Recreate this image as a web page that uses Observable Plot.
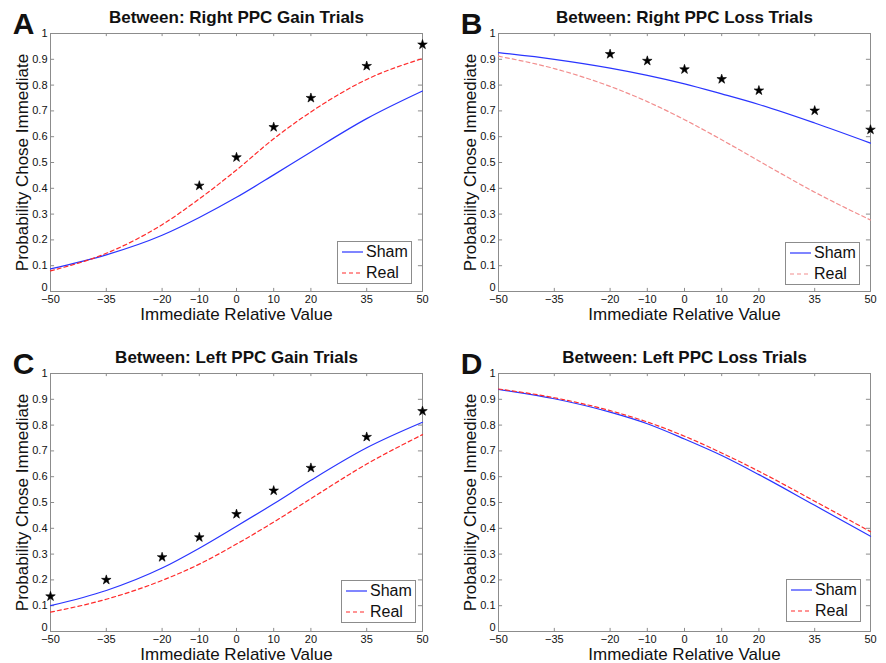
<!DOCTYPE html>
<html><head><meta charset="utf-8">
<script src="https://cdn.jsdelivr.net/npm/d3@7"></script>
<script src="https://cdn.jsdelivr.net/npm/@observablehq/plot@0.6"></script>
<style>
body{margin:0;background:#fff;font-family:"Liberation Sans",Arial,Helvetica,sans-serif;}
#root{position:relative;width:886px;height:663px;overflow:hidden;background:#fff;}
.panel{position:absolute;width:438px;height:323px;}
.legend{position:absolute;border:1px solid #8c8c8c;background:#fff;box-sizing:border-box;width:75px;height:43px;}
.row{height:20.5px;display:flex;align-items:center;font-size:16px;color:#111;}
.row svg{margin-left:4px;margin-right:3px;}
</style></head><body><div id="root"></div>
<script>
// ---- data ----
const xValues = [-50, -35, -20, -10, 0, 10, 20, 35, 50];
const yTicks = [0, 0.1, 0.2, 0.3, 0.4, 0.5, 0.6, 0.7, 0.8, 0.9, 1];
const yTickLabels = ["0", "0.1", "0.2", "0.3", "0.4", "0.5", "0.6", "0.7", "0.8", "0.9", "1"];
const panelLetters = ["A", "B", "C", "D"];
const panelTitles = [
  "Between: Right PPC Gain Trials",
  "Between: Right PPC Loss Trials",
  "Between: Left PPC Gain Trials",
  "Between: Left PPC Loss Trials"
];
const seriesNames = ["Sham", "Real"];
const xLabel = "Immediate Relative Value";
const yLabel = "Probability Chose Immediate";

const shamA = [0.088, 0.142, 0.218, 0.287, 0.365, 0.452, 0.541, 0.670, 0.777];
const realA = [0.080, 0.148, 0.259, 0.359, 0.471, 0.592, 0.696, 0.822, 0.903];
const starXA = [-10, 0, 10, 20, 35, 50];
const starYA = [0.410, 0.520, 0.637, 0.750, 0.874, 0.957];

const shamB = [0.926, 0.900, 0.866, 0.838, 0.805, 0.766, 0.725, 0.653, 0.575];
const realB = [0.912, 0.864, 0.795, 0.736, 0.666, 0.588, 0.506, 0.385, 0.277];
const starXB = [-20, -10, 0, 10, 20, 35, 50];
const starYB = [0.920, 0.894, 0.861, 0.823, 0.779, 0.701, 0.627];

const shamC = [0.100, 0.159, 0.246, 0.323, 0.408, 0.495, 0.586, 0.712, 0.811];
const realC = [0.075, 0.125, 0.198, 0.261, 0.339, 0.424, 0.515, 0.649, 0.763];
const starXC = [-50, -35, -20, -10, 0, 10, 20, 35, 50];
const starYC = [0.136, 0.200, 0.288, 0.365, 0.455, 0.546, 0.634, 0.754, 0.854];

const shamD = [0.938, 0.902, 0.850, 0.805, 0.746, 0.682, 0.608, 0.489, 0.369];
const realD = [0.940, 0.906, 0.856, 0.812, 0.757, 0.692, 0.621, 0.505, 0.387];
const starXD = [];
const starYD = [];

const shamColor = "#2a35ff";
const realColors = ["#ff2a2a", "#f28e8e", "#ff2a2a", "#ff2a2a"];

// ---- build ----
const panels = [
  {sham: shamA, real: realA, sx: starXA, sy: starYA, left: 0, top: 0, legend: [337, 241]},
  {sham: shamB, real: realB, sx: starXB, sy: starYB, left: 448, top: 0, legend: [337, 242]},
  {sham: shamC, real: realC, sx: starXC, sy: starYC, left: 0, top: 340, legend: [341, 240]},
  {sham: shamD, real: realD, sx: starXD, sy: starYD, left: 448, top: 340, legend: [338, 239]}
];

const root = document.getElementById("root");
const font = '"Liberation Sans", Arial, Helvetica, sans-serif';
const gray = "#8c8c8c";
const yFmt = d => yTickLabels[yTicks.indexOf(d)];

panels.forEach((p, i) => {
  const shamRows = xValues.map((x, j) => ({x, y: p.sham[j]}));
  const realRows = xValues.map((x, j) => ({x, y: p.real[j]}));
  const stars = p.sx.map((x, j) => ({x, y: p.sy[j]}));
  const chart = Plot.plot({
    width: 438, height: 323,
    marginLeft: 50, marginRight: 16, marginTop: 33, marginBottom: 32,
    x: {domain: [-50, 50]},
    y: {domain: [0, 1]},
    style: {fontFamily: font, background: "transparent", overflow: "visible", color: "#111"},
    marks: [
      Plot.ruleX(xValues, {x: d => d, y1: 0, y2: 0.012, stroke: gray}),
      Plot.ruleX(xValues, {x: d => d, y1: 0.988, y2: 1, stroke: gray}),
      Plot.ruleY(yTicks, {y: d => d, x1: -50, x2: -48.9, stroke: gray}),
      Plot.ruleY(yTicks, {y: d => d, x1: 48.9, x2: 50, stroke: gray}),
      Plot.frame({stroke: gray}),
      Plot.axisX({ticks: xValues, tickSize: 0, tickPadding: 4, fontSize: 11, label: null,
                  tickFormat: d => d < 0 ? "\u2212" + Math.abs(d) : String(d)}),
      Plot.axisY({ticks: yTicks.slice(1), tickSize: 0, tickPadding: 3, fontSize: 11, label: null, tickFormat: yFmt}),
      Plot.axisY({ticks: yTicks.slice(0, 1), tickSize: 0, tickPadding: 3, fontSize: 11, label: null, tickFormat: yFmt, dy: -4}),
      Plot.line(shamRows, {x: "x", y: "y", stroke: shamColor, strokeWidth: 1.2, curve: "monotone-x"}),
      Plot.line(realRows, {x: "x", y: "y", stroke: realColors[i], strokeWidth: 1.2, strokeDasharray: "4,3", curve: "monotone-x"}),
      Plot.dot(stars, {x: "x", y: "y", symbol: "star", fill: "#000", stroke: "#000", strokeWidth: 0.6, r: 3}),
      Plot.text([panelTitles[i]], {text: d => d, frameAnchor: "top", dy: -16, fontSize: 17, fontWeight: "bold", textAnchor: "middle", lineAnchor: "middle"}),
      Plot.text([panelLetters[i]], {text: d => d, frameAnchor: "top-left", dx: -27, dy: -9.5, fontSize: 30, fontWeight: "bold", textAnchor: "middle", lineAnchor: "middle"}),
      Plot.text([yLabel], {text: d => d, frameAnchor: "left", rotate: -90, dx: -28, fontSize: 17, textAnchor: "middle", lineAnchor: "middle"}),
      Plot.text([xLabel], {text: d => d, frameAnchor: "bottom", dy: 23, fontSize: 17, textAnchor: "middle", lineAnchor: "middle"})
    ]
  });
  const div = document.createElement("div");
  div.className = "panel";
  div.style.left = p.left + "px";
  div.style.top = p.top + "px";
  div.appendChild(chart);

  const lg = document.createElement("div");
  lg.className = "legend";
  lg.style.left = p.legend[0] + "px";
  lg.style.top = p.legend[1] + "px";
  seriesNames.forEach((name, k) => {
    const row = document.createElement("div");
    row.className = "row";
    const color = k === 0 ? shamColor : realColors[i];
    const dash = k === 0 ? "" : ' stroke-dasharray="4,3"';
    row.innerHTML = `<svg width="21" height="4"><line x1="0" x2="21" y1="2" y2="2" stroke="${color}" stroke-width="1.2"${dash}/></svg><span>${name}</span>`;
    lg.appendChild(row);
  });
  div.appendChild(lg);
  root.appendChild(div);
});
</script>
</body></html>
